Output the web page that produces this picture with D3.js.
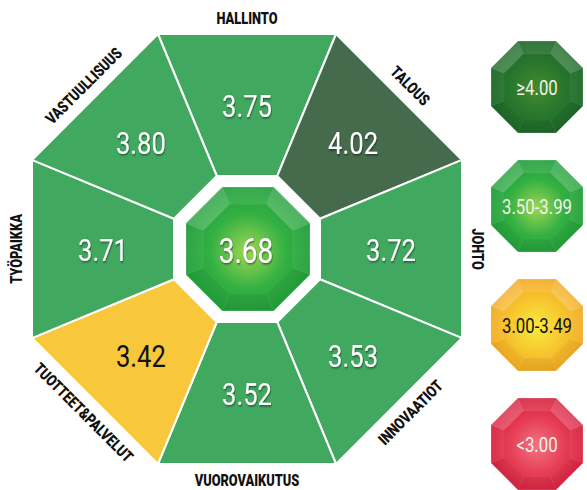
<!DOCTYPE html>
<html>
<head>
<meta charset="utf-8">
<script src="https://cdn.jsdelivr.net/npm/d3@7"></script>
<style>
  body { margin: 0; background: #fff; }
  svg { display: block; }
  .lbl { font-family: Roboto, "Liberation Sans", sans-serif; font-weight: 900; font-size: 16px; fill: #111; }
  .val { font-family: Roboto, "Liberation Sans", sans-serif; font-size: 32px; }
</style>
</head>
<body>
<svg id="chart"></svg>
<script>
// segments, clockwise from the top edge
let categories = ["HALLINTO", "TALOUS", "JOHTO", "INNOVAATIOT", "VUOROVAIKUTUS", "TUOTTEET&PALVELUT", "TYÖPAIKKA", "VASTUULLISUUS"];
let values = [3.75, 4.02, 3.72, 3.53, 3.52, 3.42, 3.71, 3.80];
let overall = 3.68;

// legend classes
let legendLabels = ["≥4.00", "3.50-3.99", "3.00-3.49", "<3.00"];
let legendKeys = ["dark", "green", "yellow", "red"];
let thresholds = [3.0, 3.5, 4.0];

let w = 587, h = 490;
let cx = 247, cy = 249;
let outerR = 215, holeR = 73, gemR = 62;
let squeeze = 0.8;   // the original font is a condensed one

let svg = d3.select("#chart").attr("width", w).attr("height", h);
let defs = svg.append("defs");

// flat fill for segments, gem colours for center + legend
let flatColor = d3.scaleThreshold().domain(thresholds).range(["#e03a4a", "#f8c73b", "#41a860", "#456a4c"]);
let gemKey = d3.scaleThreshold().domain(thresholds).range(["red", "yellow", "green", "dark"]);
let gemColors = {
    dark:   { c: "#448b2f", m: "#28762d", e: "#1b6628" },
    green:  { c: "#9fd653", m: "#34b143", e: "#1f9d3a" },
    yellow: { c: "#f6ec3e", m: "#f7c52e", e: "#f3a622" },
    red:    { c: "#f27583", m: "#e63d55", e: "#d61f3d" }
};
let textColor = function (v) { return v >= 3.0 && v < 3.5 ? "#111" : "#fff"; };

Object.keys(gemColors).forEach(function (k) {
    let g = defs.append("radialGradient").attr("id", "gem-" + k)
        .attr("cx", "50%").attr("cy", "52%").attr("r", "55%");
    g.append("stop").attr("offset", "0%").attr("stop-color", gemColors[k].c);
    g.append("stop").attr("offset", "55%").attr("stop-color", gemColors[k].m);
    g.append("stop").attr("offset", "100%").attr("stop-color", gemColors[k].e);
});

let shadow = defs.append("filter").attr("id", "shadow")
    .attr("x", "-20%").attr("y", "-20%").attr("width", "140%").attr("height", "150%");
shadow.append("feDropShadow").attr("dx", 0.8).attr("dy", 1.2).attr("stdDeviation", 0.8)
    .attr("flood-color", "#000").attr("flood-opacity", 0.55);

// angle measured clockwise from "up"
let angle = d3.scaleLinear().domain([0, categories.length]).range([0, 2 * Math.PI]);
let k8 = Math.cos(Math.PI / 8);

function pt(a, r, x0, y0) {
    return [x0 + r * Math.sin(a), y0 - r * Math.cos(a)];
}
// vertex i of an octagon with apothem r (flat top)
function vtx(i, r, x0, y0) {
    return pt(angle(i - 0.5), r / k8, x0, y0);
}
function octagon(r, x0, y0) {
    return d3.range(8).map(function (i) { return vtx(i, r, x0, y0); });
}
let line = d3.line().curve(d3.curveLinearClosed);

// segments
let data = categories.map(function (c, i) { return { name: c, value: values[i], i: i }; });

svg.append("g").selectAll("path")
    .data(data)
    .enter()
    .append("path")
    .attr("d", function (d) {
        return line([vtx(d.i, outerR, cx, cy), vtx(d.i + 1, outerR, cx, cy),
                     vtx(d.i + 1, holeR, cx, cy), vtx(d.i, holeR, cx, cy)]);
    })
    .attr("fill", function (d) { return flatColor(d.value); })
    .attr("stroke", "#fff")
    .attr("stroke-width", 2)
    .attr("stroke-linejoin", "round");

// value numbers in the segments (diagonal ones sit a bit further out)
svg.append("g").selectAll("text")
    .data(data)
    .enter()
    .append("text")
    .attr("class", "val")
    .attr("transform", function (d) {
        let p = pt(angle(d.i), d.i % 2 ? 150 : 144, cx, cy);
        return "translate(" + p[0] + "," + p[1] + ") scale(" + squeeze + ",1)";
    })
    .attr("dy", "0.36em")
    .attr("text-anchor", "middle")
    .attr("fill", function (d) { return textColor(d.value); })
    .attr("filter", function (d) { return textColor(d.value) == "#fff" ? "url(#shadow)" : null; })
    .text(function (d) { return d.value.toFixed(2); });

// category labels around the edge, upright where possible
svg.append("g").selectAll("text")
    .data(data)
    .enter()
    .append("text")
    .attr("class", "lbl")
    .attr("text-anchor", "middle")
    .attr("dy", "0.36em")
    .attr("transform", function (d) {
        let a = angle(d.i) * 180 / Math.PI;
        let p = pt(angle(d.i), 231, cx, cy);
        let rot = a > 90 && a < 270 ? a - 180 : (a >= 270 ? a - 360 : a);
        return "translate(" + p[0] + "," + p[1] + ") rotate(" + rot + ") scale(0.8,1)";
    })
    .text(function (d) { return d.name; });

// bevelled octagon "gem"
function gem(g, x0, y0, r, key) {
    g.append("path")
        .attr("d", line(octagon(r, x0, y0)))
        .attr("fill", "url(#gem-" + key + ")");
    let inner = r * 0.72;
    // facet shading, top ones lighter
    let shade = [0.1, 0.2, 0.05, -0.04, -0.06, -0.04, 0.05, 0.2];
    for (let i = 0; i < 8; i++) {
        g.append("path")
            .attr("d", line([vtx(i, r, x0, y0), vtx(i + 1, r, x0, y0), vtx(i + 1, inner, x0, y0), vtx(i, inner, x0, y0)]))
            .attr("fill", shade[i] > 0 ? "#fff" : "#000")
            .attr("fill-opacity", Math.abs(shade[i]))
            .attr("stroke", "#fff")
            .attr("stroke-opacity", 0.06)
            .attr("stroke-width", 0.8);
    }
    g.append("path")
        .attr("d", line(octagon(r, x0, y0)))
        .attr("fill", "none")
        .attr("stroke", "#fff")
        .attr("stroke-opacity", 0.2)
        .attr("stroke-width", 1);
}

// center
let center = svg.append("g");
gem(center, cx + 1, cy, gemR, gemKey(overall));
center.append("text")
    .attr("class", "val")
    .attr("transform", "translate(" + (cx - 1) + "," + (cy + 1) + ") scale(" + squeeze + ",1)")
    .attr("dy", "0.36em")
    .attr("text-anchor", "middle")
    .style("font-size", "35px")
    .attr("fill", "#fff")
    .attr("filter", "url(#shadow)")
    .text(overall.toFixed(2));

// legend
let ly = d3.scalePoint().domain(legendLabels).range([87, 444]);
let legend = svg.append("g");
legendLabels.forEach(function (l, i) {
    let g = legend.append("g");
    gem(g, 537, ly(l), 46, legendKeys[i]);
    g.append("text")
        .attr("class", "val")
        .attr("transform", "translate(537," + ly(l) + ") scale(0.8,1)")
        .attr("dy", "0.36em")
        .attr("text-anchor", "middle")
        .style("font-size", "21px")
        .attr("fill", legendKeys[i] == "yellow" ? "#111" : "#f2f2e8")
        .text(l);
});
</script>
</body>
</html>
